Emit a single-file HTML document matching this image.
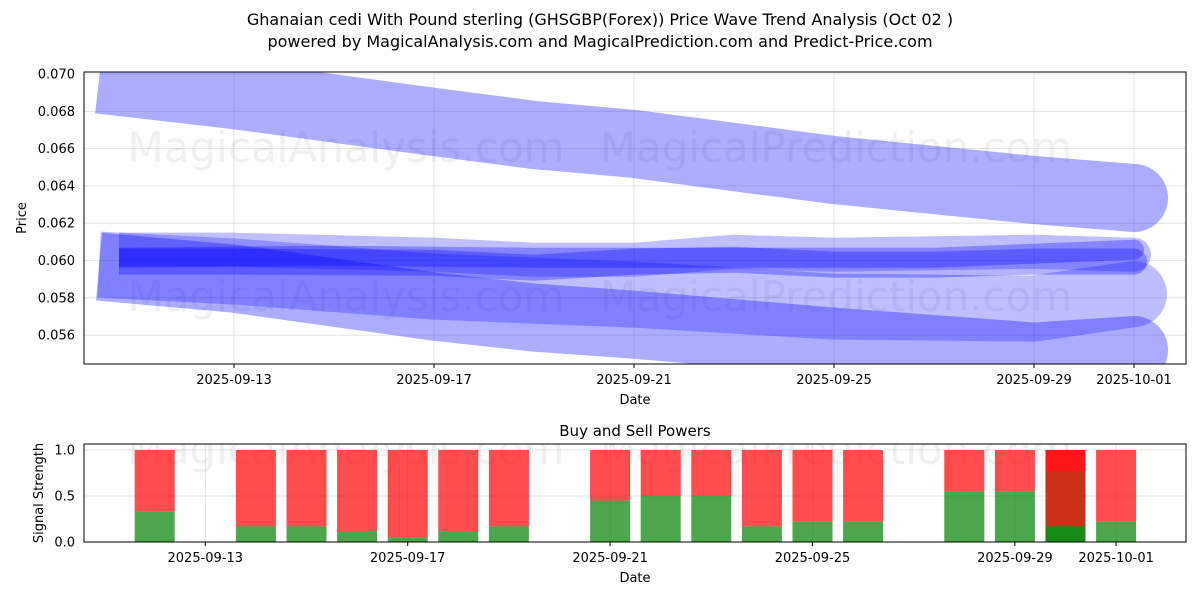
<!DOCTYPE html>
<html><head><meta charset="utf-8"><style>
body{margin:0;background:#fff;font-family:"Liberation Sans","DejaVu Sans",sans-serif}
svg text{font-family:"DejaVu Sans","Liberation Sans",sans-serif}
</style></head><body>
<svg id="c" width="1200" height="600" xmlns="http://www.w3.org/2000/svg">
<text x="600" y="25" text-anchor="middle" font-size="16">Ghanaian cedi With Pound sterling (GHSGBP(Forex)) Price Wave Trend Analysis (Oct 02 )</text>
<text x="600" y="47" text-anchor="middle" font-size="16">powered by MagicalAnalysis.com and MagicalPrediction.com and Predict-Price.com</text>
<defs><clipPath id="cp1"><rect x="84" y="72" width="1102" height="292"/></clipPath><clipPath id="cp2"><rect x="84" y="444" width="1102" height="98"/></clipPath></defs>
<g id="topPanel"></g>
<g id="botPanel"></g>
</svg>
<script>
// Price chart data (day-of-September, price)
const bandADays=[10.3,13,17,19,21,25,29,31];
const bandAVals=[0.0697,0.06887,0.06743,0.06673,0.06625,0.06485,0.06378,0.06335];
const bandBDays=[10.3,13,17,19,21,25,29,31];
const bandBVals=[0.05967,0.05903,0.05753,0.05694,0.05656,0.05565,0.05485,0.05520];
const bandCDays=[10.3,13,17,21,25,29,31];
const bandCVals=[0.05978,0.05941,0.05860,0.05817,0.05753,0.05742,0.05820];
const line1Days=[10.7,13,17,19,21,23,25,29,31];
const line1Vals=[0.06058,0.06058,0.06031,0.06004,0.06004,0.06047,0.06031,0.06047,0.06031];
const line2Days=[10.7,13,17,19,21,23,25,27,29,31];
const line2Vals=[0.05994,0.05994,0.05988,0.05961,0.05994,0.06004,0.05978,0.05978,0.05994,0.05994];
const line3Days=[10.7,15,19,23,27,31];
const line3Vals=[0.06015,0.06026,0.06015,0.06015,0.06015,0.06058];
const yTicks=[0.056,0.058,0.060,0.062,0.064,0.066,0.068,0.070];
const xTickDays=[13,17,21,25,29,31];
const xTickLabels=["2025-09-13","2025-09-17","2025-09-21","2025-09-25","2025-09-29","2025-10-01"];
// Signal data
const barDays=[12,14,15,16,17,18,19,21,22,23,24,25,26,28,29,30,30,31];
const buyVals=[0.33,0.17,0.17,0.12,0.05,0.12,0.17,0.45,0.5,0.5,0.17,0.22,0.22,0.55,0.55,0.77,0.17,0.22];
const sigTicks=[0,0.5,1.0];
const sigTickLabels=["0.0","0.5","1.0"];

const NS="http://www.w3.org/2000/svg";
function mk(p,t,a){const e=document.createElementNS(NS,t);for(const k in a)e.setAttribute(k,a[k]);p.appendChild(e);return e;}
const X=d=>84+(d-10)*50;
const Y=v=>74+(0.070-v)/0.002*37.3;
const X2=d=>205.3+(d-13)*50.6;
const Y2=v=>542-v*92;
const topG=document.getElementById('topPanel'), botG=document.getElementById('botPanel');

yTicks.forEach(v=>{const l=mk(topG,'line',{x1:84,x2:1186,y1:Y(v),y2:Y(v),stroke:'#ddd','stroke-width':0.8});

const t=mk(topG,'text',{x:75,y:Y(v)+4.5,'text-anchor':'end','font-size':13});t.textContent=v.toFixed(3);
});
xTickDays.forEach((d,i)=>{const l=mk(topG,'line',{x1:X(d),x2:X(d),y1:72,y2:364,stroke:'#ddd','stroke-width':0.8});

mk(topG,'line',{x1:X(d),x2:X(d),y1:364,y2:368,stroke:'#000'});
const t=mk(topG,'text',{x:X(d),y:384,'text-anchor':'middle','font-size':13});t.textContent=xTickLabels[i];
});
[[346,148,'MagicalAnalysis.com'],[836,148,'MagicalPrediction.com'],[346,297,'MagicalAnalysis.com'],[836,297,'MagicalPrediction.com']].forEach(w=>{
const t=mk(topG,'text',{x:w[0],y:w[1]+14,'text-anchor':'middle','font-size':42,fill:'rgba(128,128,128,0.12)'});t.textContent=w[2];
});
const g=mk(topG,'g',{'clip-path':'url(#cp1)'});
function band(days,vals,w,op,name){const gg=mk(g,'g',{opacity:op});

const pts=days.map((d,i)=>X(d)+','+Y(vals[i])).join(' ');
mk(gg,'polyline',{points:pts,fill:'none',stroke:'#0000ff','stroke-width':w,'stroke-linecap':'butt','stroke-linejoin':'round'});
const n=days.length-1;mk(gg,'circle',{cx:X(days[n]),cy:Y(vals[n]),r:w/2,fill:'#0000ff'});}
band(bandADays,bandAVals,68,0.32,'wave-band-upper');
band(bandBDays,bandBVals,68,0.32,'wave-band-lower');
band(bandCDays,bandCVals,66,0.25,'wave-band-middle');
band(line1Days,line1Vals,34,0.25,'wave-line-1');
band(line2Days,line2Vals,26,0.3,'wave-line-2');
band(line3Days,line3Vals,20,0.3,'wave-line-3');
mk(topG,'rect',{x:84,y:72,width:1102,height:292,fill:'none',stroke:'#000','stroke-width':1});
const xl=mk(topG,'text',{x:635,y:404,'text-anchor':'middle','font-size':13});xl.textContent='Date';

const yl=mk(topG,'text',{x:0,y:0,'text-anchor':'middle','font-size':13,transform:'translate(26,218) rotate(-90)'});yl.textContent='Price';


const bt=mk(botG,'text',{x:635,y:436,'text-anchor':'middle','font-size':15});bt.textContent='Buy and Sell Powers';

sigTicks.forEach((v,i)=>{const l=mk(botG,'line',{x1:84,x2:1186,y1:Y2(v),y2:Y2(v),stroke:'#ddd','stroke-width':0.8});

const t=mk(botG,'text',{x:75,y:Y2(v)+4.5,'text-anchor':'end','font-size':13});t.textContent=sigTickLabels[i];
});
xTickDays.forEach((d,i)=>{const l=mk(botG,'line',{x1:X2(d),x2:X2(d),y1:444,y2:542,stroke:'#ddd','stroke-width':0.8});

mk(botG,'line',{x1:X2(d),x2:X2(d),y1:542,y2:546,stroke:'#000'});
const t=mk(botG,'text',{x:X2(d),y:562,'text-anchor':'middle','font-size':13});t.textContent=xTickLabels[i];
});
[[346,'MagicalAnalysis.com'],[836,'MagicalPrediction.com']].forEach(w=>{
const t=mk(botG,'text',{x:w[0],y:464,'text-anchor':'middle','font-size':42,fill:'rgba(128,128,128,0.12)','clip-path':'url(#cp2)'});t.textContent=w[1];
});
barDays.forEach((d,i)=>{const x=X2(d)-20;
const r=mk(botG,'rect',{x:x,y:Y2(1),width:40,height:Y2(buyVals[i])-Y2(1),fill:'rgba(255,0,0,0.7)'});

const gr=mk(botG,'rect',{x:x,y:Y2(buyVals[i]),width:40,height:Y2(0)-Y2(buyVals[i]),fill:'rgba(0,128,0,0.7)'});
});
mk(botG,'rect',{x:84,y:444,width:1102,height:98,fill:'none',stroke:'#000','stroke-width':1});
const bx=mk(botG,'text',{x:635,y:582,'text-anchor':'middle','font-size':13});bx.textContent='Date';

const by=mk(botG,'text',{x:0,y:0,'text-anchor':'middle','font-size':13,transform:'translate(43,493) rotate(-90)'});by.textContent='Signal Strength';

</script>
</body></html>
